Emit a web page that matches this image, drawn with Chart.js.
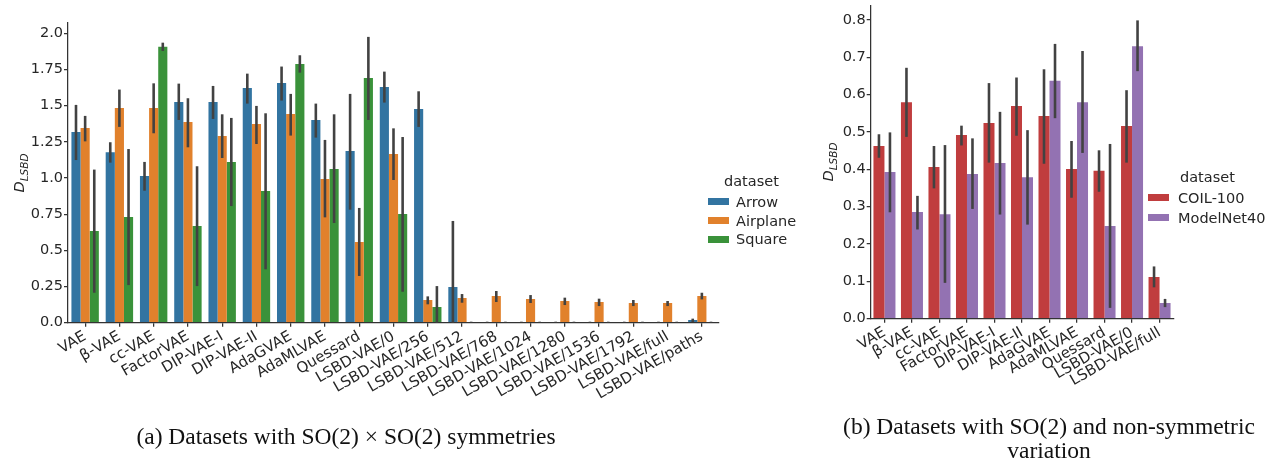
<!DOCTYPE html>
<html>
<head>
<meta charset="utf-8">
<script src="https://cdn.jsdelivr.net/npm/chart.js@4"></script>
<style>
  html, body { margin: 0; padding: 0; background: #fff; }
  #page { position: relative; width: 1275px; height: 463px; overflow: hidden; font-family: "DejaVu Sans", sans-serif; color: #262626; }
  canvas { position: absolute; top: 0; }
  .ylab { position: absolute; width: 80px; height: 20px; line-height: 20px; text-align: center; font-size: 14.5px; transform: rotate(-90deg); white-space: nowrap; }
  .ylab sub { font-size: 10.5px; font-style: italic; }
  .leg { position: absolute; font-size: 14.5px; white-space: nowrap; }
  .sw { position: absolute; width: 21px; height: 7px; }
  .caption { position: absolute; font-family: "Liberation Serif", serif; font-size: 23.5px; line-height: 24px; text-align: center; color: #111; white-space: nowrap; }
</style>
</head>
<body>
<div id="page">
  <canvas id="chartA" width="780" height="463" style="left:0"></canvas>
  <canvas id="chartB" width="485" height="463" style="left:790px"></canvas>
  <div class="ylab" style="left:-21.5px; top:162.7px"><i>D</i><sub>LSBD</sub></div>
  <div class="ylab" style="left:787.5px; top:152.3px"><i>D</i><sub>LSBD</sub></div>
  <div id="legA"></div>
  <div id="legB"></div>
  <div class="caption" style="left:0; width:692px; top:424px">(a) Datasets with SO(2) &times; SO(2) symmetries</div>
  <div class="caption" style="left:799px; width:500px; top:414.4px">(b) Datasets with SO(2) and non-symmetric<br>variation</div>
</div>
<script>
// ---------- (a) SO(2) x SO(2) datasets ----------
const catsA = ['VAE','β-VAE','cc-VAE','FactorVAE','DIP-VAE-I','DIP-VAE-II','AdaGVAE','AdaMLVAE','Quessard',
  'LSBD-VAE/0','LSBD-VAE/256','LSBD-VAE/512','LSBD-VAE/768','LSBD-VAE/1024','LSBD-VAE/1280',
  'LSBD-VAE/1536','LSBD-VAE/1792','LSBD-VAE/full','LSBD-VAE/paths'];

const arrowVals = [1.318, 1.177, 1.014, 1.525, 1.525, 1.622, 1.657, 1.401, 1.187, 1.629, 1.477, 0.247, 0.004, 0.004, 0.004, 0.004, 0.004, 0.004, 0.018];
const arrowLo   = [1.124, 1.106, 0.912, 1.401, 1.408, 1.514, 1.535, 1.279, 0.781, 1.521, 1.353, 0.000, 0.002, 0.002, 0.002, 0.002, 0.002, 0.002, 0.005];
const arrowHi   = [1.505, 1.247, 1.111, 1.652, 1.636, 1.721, 1.770, 1.514, 1.581, 1.735, 1.599, 0.703, 0.007, 0.007, 0.007, 0.007, 0.007, 0.007, 0.028];

const airplaneVals = [1.346, 1.484, 1.484, 1.387, 1.290, 1.373, 1.442, 0.993, 0.558, 1.166, 0.157, 0.171, 0.184, 0.164, 0.150, 0.143, 0.136, 0.136, 0.184];
const airplaneLo   = [1.253, 1.353, 1.309, 1.212, 1.138, 1.235, 1.293, 0.728, 0.323, 0.986, 0.127, 0.138, 0.143, 0.136, 0.122, 0.115, 0.115, 0.115, 0.161];
const airplaneHi   = [1.429, 1.611, 1.654, 1.551, 1.440, 1.498, 1.581, 1.263, 0.793, 1.343, 0.182, 0.198, 0.219, 0.191, 0.173, 0.166, 0.157, 0.150, 0.207];

const squareVals = [0.634, 0.730, 1.906, 0.668, 1.111, 0.910, 1.788, 1.062, 1.691, 0.751, 0.108, 0.004, 0.004, 0.004, 0.004, 0.004, 0.004, 0.004, 0.004];
const squareLo   = [0.207, 0.260, 1.878, 0.253, 0.806, 0.369, 1.728, 0.689, 1.401, 0.214, 0.000, 0.002, 0.002, 0.002, 0.002, 0.002, 0.002, 0.002, 0.002];
const squareHi   = [1.058, 1.200, 1.935, 1.081, 1.415, 1.447, 1.848, 1.440, 1.975, 1.283, 0.253, 0.007, 0.007, 0.007, 0.007, 0.007, 0.007, 0.007, 0.007];

const yTicksA = [0, 0.25, 0.5, 0.75, 1.0, 1.25, 1.5, 1.75, 2.0];
const yLabelsA = ['0.0', '0.25', '0.5', '0.75', '1.0', '1.25', '1.5', '1.75', '2.0'];

// ---------- (b) SO(2) + non-symmetric ----------
const catsB = ['VAE','β-VAE','cc-VAE','FactorVAE','DIP-VAE-I','DIP-VAE-II','AdaGVAE','AdaMLVAE','Quessard','LSBD-VAE/0','LSBD-VAE/full'];

const coilVals = [0.4625, 0.580, 0.406, 0.492, 0.524, 0.570, 0.543, 0.401, 0.396, 0.516, 0.112];
const coilLo   = [0.431, 0.487, 0.349, 0.464, 0.418, 0.490, 0.415, 0.324, 0.340, 0.418, 0.084];
const coilHi   = [0.494, 0.672, 0.4625, 0.517, 0.631, 0.646, 0.668, 0.476, 0.451, 0.612, 0.140];

const modelnetVals = [0.393, 0.286, 0.280, 0.3875, 0.417, 0.379, 0.637, 0.580, 0.248, 0.730, 0.042];
const modelnetLo   = [0.285, 0.239, 0.096, 0.294, 0.279, 0.252, 0.537, 0.444, 0.029, 0.663, 0.031];
const modelnetHi   = [0.499, 0.329, 0.465, 0.483, 0.554, 0.505, 0.736, 0.717, 0.468, 0.799, 0.053];

const yTicksB = [0, 0.1, 0.2, 0.3, 0.4, 0.5, 0.6, 0.7, 0.8];
const yLabelsB = ['0.0', '0.1', '0.2', '0.3', '0.4', '0.5', '0.6', '0.7', '0.8'];

const colors = { Arrow: '#3274a1', Airplane: '#e1812c', Square: '#3a923a', 'COIL-100': '#c03d3e', ModelNet40: '#9372b2' };

Chart.defaults.font.family = '"DejaVu Sans", sans-serif';
Chart.defaults.font.size = 14.5;
Chart.defaults.color = '#262626';

// seaborn style confidence interval lines
const errorBars = {
  id: 'errorBars',
  afterDatasetsDraw(chart) {
    const ctx = chart.ctx;
    const y = chart.scales.y;
    ctx.save();
    ctx.strokeStyle = '#424242';
    ctx.lineWidth = 2.6;
    chart.data.datasets.forEach((ds, i) => {
      chart.getDatasetMeta(i).data.forEach((bar, j) => {
        ctx.beginPath();
        ctx.moveTo(bar.x, y.getPixelForValue(ds.errLo[j]));
        ctx.lineTo(bar.x, y.getPixelForValue(ds.errHi[j]));
        ctx.stroke();
      });
    });
    ctx.restore();
  }
};

function makeChart(id, cats, series, yMax, ticks, labels, box) {
  const axisGrid = { drawOnChartArea: false, drawTicks: true, tickLength: 4, color: '#333', lineWidth: 1.25 };
  return new Chart(document.getElementById(id), {
    type: 'bar',
    data: {
      labels: cats,
      datasets: series.map(s => ({
        label: s.name, data: s.vals, errLo: s.lo, errHi: s.hi,
        backgroundColor: colors[s.name], borderWidth: 0,
        categoryPercentage: 0.8, barPercentage: 1.0
      }))
    },
    options: {
      responsive: false,
      animation: false,
      devicePixelRatio: 1,
      layout: { padding: { left: 0, right: box.right, top: box.top, bottom: 0 } },
      plugins: { legend: { display: false }, tooltip: { enabled: false } },
      scales: {
        x: {
          grid: Object.assign({ offset: false }, axisGrid),
          border: { display: true, color: '#333', width: 1.25 },
          ticks: { autoSkip: false, minRotation: 30, maxRotation: 30, padding: 1, font: { size: 15 } },
          afterFit: s => { s.height = box.xHeight; s.paddingLeft = 0; s.paddingRight = 0; }
        },
        y: {
          min: 0, max: yMax,
          grid: axisGrid,
          border: { display: true, color: '#333', width: 1.25 },
          ticks: { padding: 1, callback: (v, i) => labels[i] },
          afterBuildTicks: s => { s.ticks = ticks.map(v => ({ value: v })); },
          afterFit: s => { s.width = box.yWidth; s.paddingTop = 0; s.paddingBottom = 0; }
        }
      }
    },
    plugins: [errorBars]
  });
}

function makeLegend(id, series, pos) {
  const el = document.getElementById(id);
  let html = '<div class="leg" style="left:' + pos.titleX + 'px; top:' + (pos.titleY - 9) + 'px; line-height:18px">dataset</div>';
  series.forEach((s, i) => {
    const cy = pos.firstY + i * pos.step;
    html += '<div class="sw" style="left:' + pos.swX + 'px; top:' + (cy - 3.5) + 'px; background:' + colors[s.name] + '"></div>';
    html += '<div class="leg" style="left:' + pos.textX + 'px; top:' + (cy - 9) + 'px; line-height:18px">' + s.name + '</div>';
  });
  el.innerHTML = html;
}

const seriesA = [
  { name: 'Arrow', vals: arrowVals, lo: arrowLo, hi: arrowHi },
  { name: 'Airplane', vals: airplaneVals, lo: airplaneLo, hi: airplaneHi },
  { name: 'Square', vals: squareVals, lo: squareLo, hi: squareHi }
];
const seriesB = [
  { name: 'COIL-100', vals: coilVals, lo: coilLo, hi: coilHi },
  { name: 'ModelNet40', vals: modelnetVals, lo: modelnetLo, hi: modelnetHi }
];

makeChart('chartA', catsA, seriesA, 2.073, yTicksA, yLabelsA, { right: 61, top: 22.7, xHeight: 140.3, yWidth: 68 });
makeChart('chartB', catsB, seriesB, 0.8375, yTicksB, yLabelsB, { right: 101.7, top: 6, xHeight: 144.3, yWidth: 80.7 });

makeLegend('legA', seriesA, { titleX: 724, titleY: 181, swX: 708, textX: 736, firstY: 201.7, step: 18.8 });
makeLegend('legB', seriesB, { titleX: 1180, titleY: 177, swX: 1148, textX: 1178, firstY: 197.7, step: 20 });
</script>
</body>
</html>
